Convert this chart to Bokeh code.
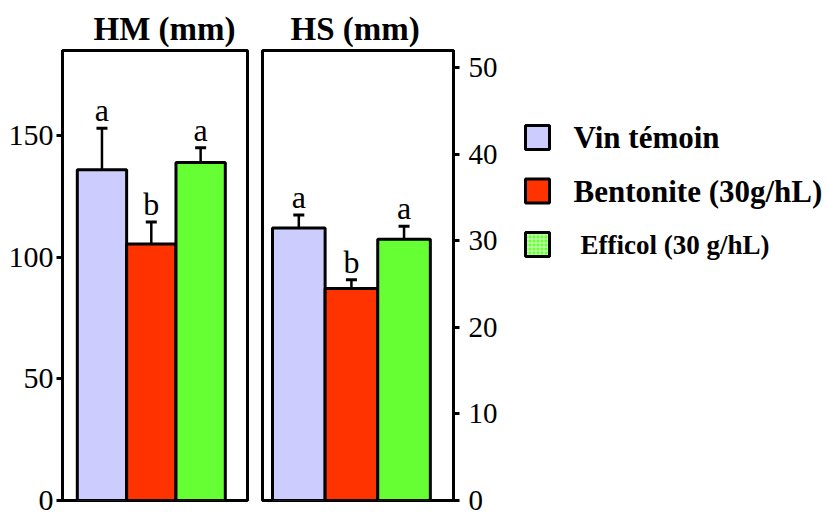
from bokeh.plotting import figure
from bokeh.models import Range1d, FixedTicker, Whisker, TeeHead, ColumnDataSource
from bokeh.layouts import row
from bokeh.core.properties import value
from bokeh.embed import file_html
from bokeh.resources import INLINE

# ---- data ----
treatments = ["Vin témoin", "Bentonite (30g/hL)", "Efficol (30 g/hL)"]
colors = ["#ccccff", "#ff3300", "#66ff33"]
hatches = ["blank", "blank", "cross"]

hm_mean = [136, 105.5, 139]
hm_err = [17, 9, 6]
hm_letters = ["a", "b", "a"]
hm_ticks = [0, 50, 100, 150]

hs_mean = [31.5, 24.5, 30.2]
hs_err = [1.5, 1.0, 1.5]
hs_letters = ["a", "b", "a"]
hs_ticks = [0, 10, 20, 30, 40, 50]

SERIF = "Liberation Serif"
H = 515
TOP = 50
BOTTOM = 15


def panel(title, means, errs, letters, ticks, ymax, xr, side, width, bl, br, title_offset):
    p = figure(width=width, height=H, x_range=Range1d(*xr), y_range=Range1d(0, ymax),
               output_backend="svg", toolbar_location=None, tools="",
               x_axis_location=None, y_axis_location=side,
               min_border_left=bl, min_border_right=br, min_border_top=TOP,
               min_border_bottom=BOTTOM)
    p.title.text = title
    p.title.text_font = SERIF
    p.title.text_font_size = "33px"
    p.title.text_font_style = "bold"
    p.title.text_color = "black"
    p.title.align = "left"
    p.title.offset = title_offset
    p.title.standoff = 8
    p.grid.visible = False
    p.outline_line_color = "black"
    p.outline_line_width = 3
    p.outline_line_alpha = 1
    ax = p.yaxis[0]
    ax.ticker = FixedTicker(ticks=ticks)
    ax.axis_line_width = 3
    ax.major_tick_line_width = 3
    ax.major_tick_out = 6
    ax.major_tick_in = 0
    ax.minor_tick_line_color = None
    ax.major_label_text_font = SERIF
    ax.major_label_text_font_size = "30px" if side == "left" else "29px"
    ax.major_label_text_color = "black"
    ax.major_label_standoff = 3 if side == "left" else 9

    xs = [i + 1 for i in range(len(means))]
    upper = [m + e for m, e in zip(means, errs)]
    src = ColumnDataSource(dict(x=xs, mean=means, upper=upper, color=colors, letter=letters))
    p.vbar(x="x", top="mean", bottom=0, width=1, source=src, fill_color="color",
           line_color="black", line_width=3)
    p.add_layout(Whisker(base="x", lower="mean", upper="upper", source=src,
                         lower_head=None,
                         upper_head=TeeHead(size=11, line_width=3, line_color="black"),
                         line_width=2.5, line_color="black"))
    p.text(x="x", y="upper", text="letter", source=src, text_align="center",
           text_baseline="bottom", y_offset=0, text_font=value(SERIF),
           text_font_size="32px", text_color="black")
    return p


p1 = panel("HM (mm)", hm_mean, hm_err, hm_letters, hm_ticks, 185, (0.2, 3.95),
           "left", 254, 62, 7, 31)
p2 = panel("HS (mm)", hs_mean, hs_err, hs_letters, hs_ticks, 52, (0.31, 3.94),
           "right", 251, 8, 52, 28)

# ---- legend panel (y in page pixels, frame spans TOP..H-BOTTOM) ----
p3 = figure(width=323, height=H, x_range=Range1d(0, 323),
            y_range=Range1d(H - BOTTOM, TOP),
            output_backend="svg", toolbar_location=None, tools="",
            min_border_left=0, min_border_right=0, min_border_top=TOP,
            min_border_bottom=BOTTOM,
            x_axis_location=None, y_axis_location=None)
p3.grid.visible = False
p3.outline_line_color = None
n = len(treatments)
ly = [137 + i * 53.5 for i in range(n)]
lsrc = ColumnDataSource(dict(
    x=[32] * n, y=ly, color=colors, hatch=hatches, label=treatments,
    size=["31px", "31px", "27px"], xo=[36, 36, 43],
))
p3.rect(x="x", y="y", width=24, height=24, width_units="screen", height_units="screen",
        source=lsrc, fill_color="color", line_color="black", line_width=3,
        hatch_pattern="hatch", hatch_color="white", hatch_alpha=0.7, hatch_scale=4,
        hatch_weight=1)
p3.text(x="x", y="y", text="label", source=lsrc, x_offset="xo", text_align="left",
        text_baseline="middle", text_font=value(SERIF), text_font_style="bold",
        text_font_size="size", text_color="black")

layout = row(p1, p2, p3)
open("out.html", "w").write(file_html(layout, INLINE))
